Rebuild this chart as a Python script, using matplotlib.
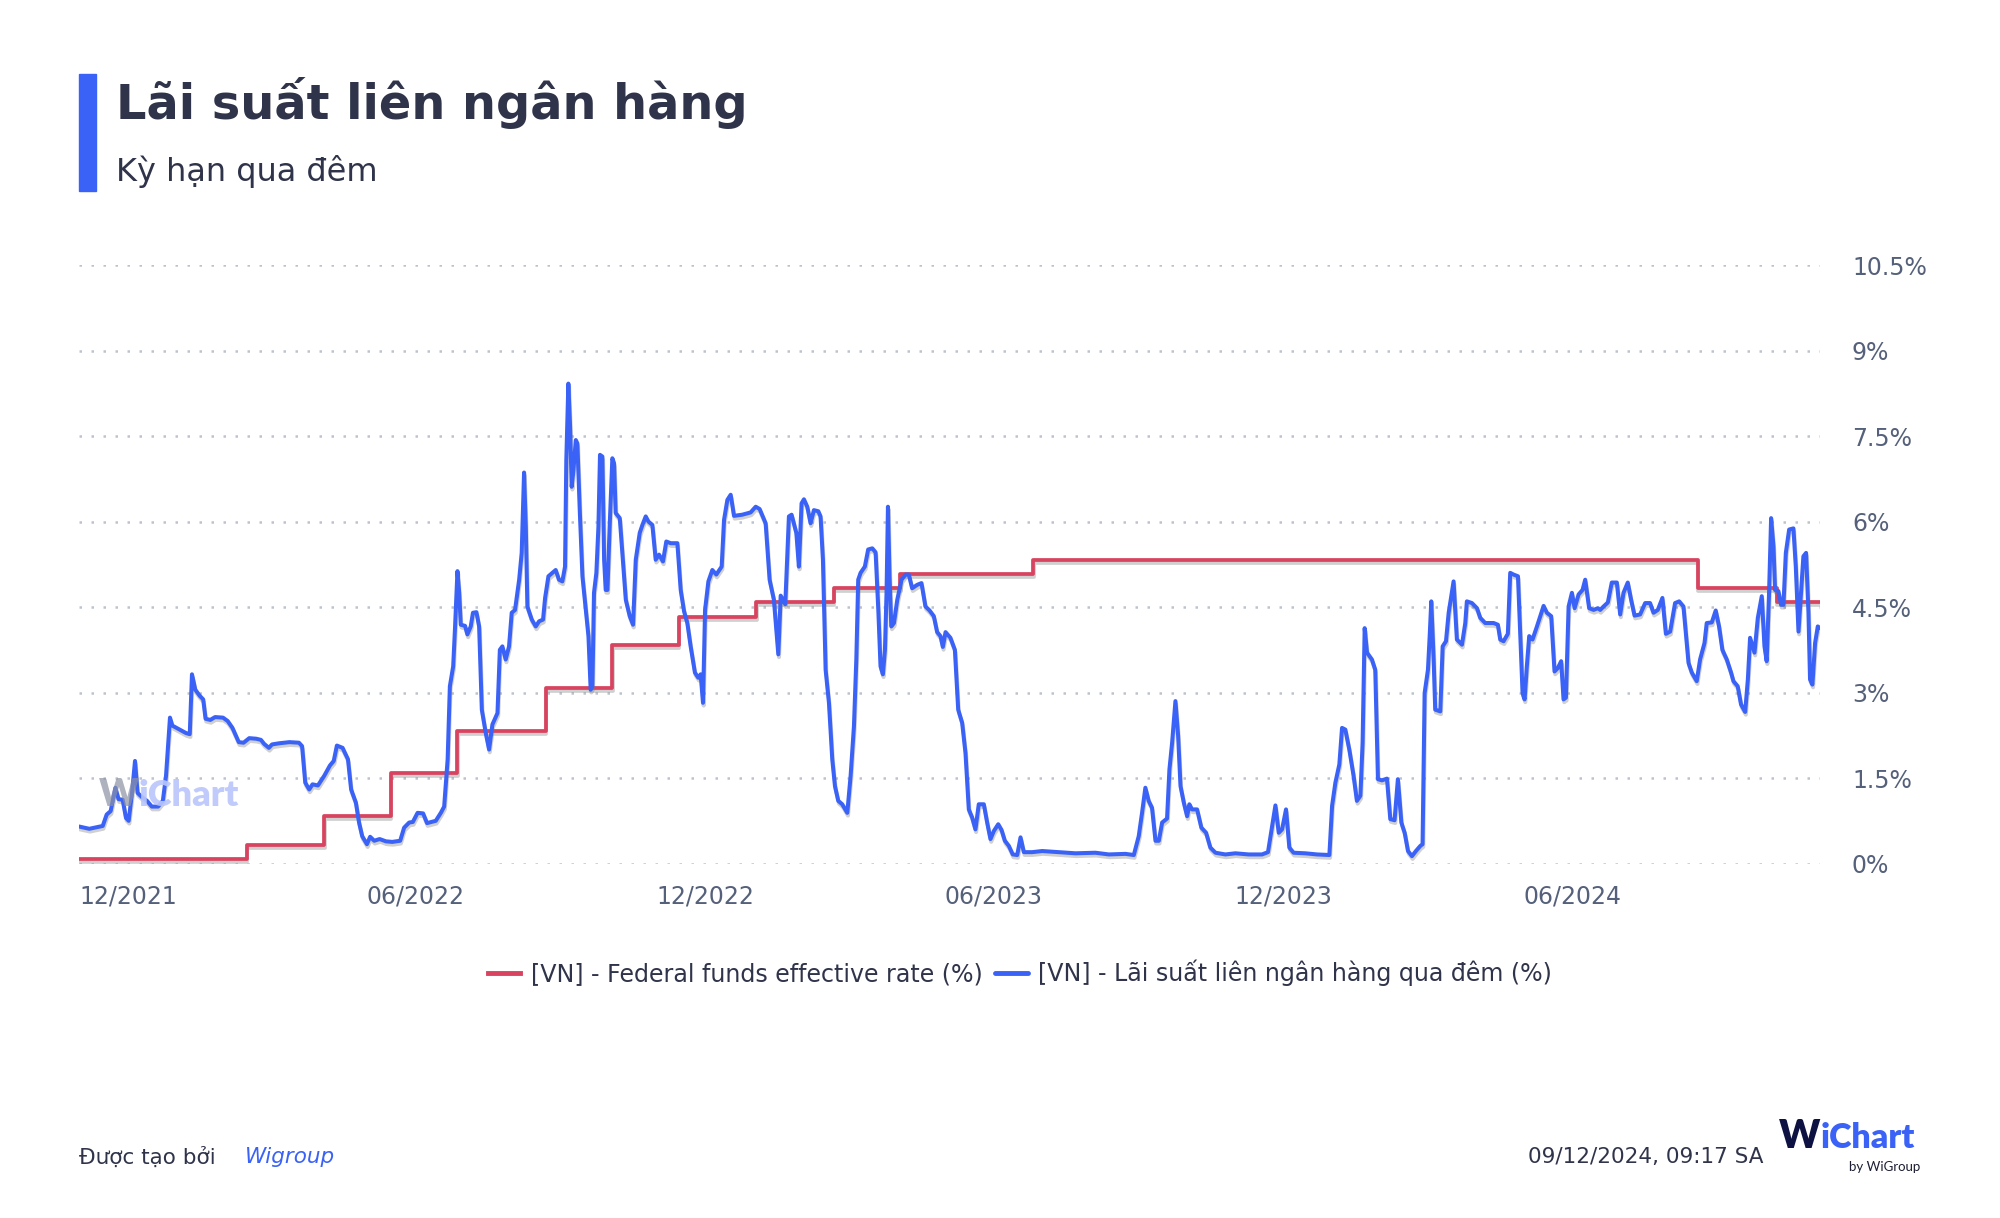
import numpy as np
import pandas as pd
import matplotlib
matplotlib.use('Agg')
import matplotlib.pyplot as plt
import matplotlib.patheffects as pe
from matplotlib.patches import Rectangle

# ---------------- data ----------------
START = '2021-12-01'

fed_dates = ['2021-12-01', '2022-03-17', '2022-05-05', '2022-06-16', '2022-07-28',
             '2022-09-22', '2022-11-03', '2022-12-15', '2023-02-02', '2023-03-23',
             '2023-05-04', '2023-07-27', '2024-09-19', '2024-11-08', '2024-12-05']
fed_values = [0.08, 0.33, 0.83, 1.58, 2.33, 3.08, 3.83, 4.33, 4.58, 4.83,
              5.08, 5.33, 4.83, 4.58, 4.58]

# days since START
vn_days = [0, 6.5, 15, 17.5, 20, 23, 25, 27.6, 29.7, 31.4, 33.5, 35.4, 37, 40, 43, 46, 50, 53, 55, 57.5,
           59, 63, 67.6, 70, 71.4, 73.5, 76.4, 78.5, 80, 83, 86, 91, 94, 97, 101, 104, 107.6, 112, 115, 117,
           120, 122, 126.5, 133, 139, 141, 143, 145.5, 147.6, 151, 155, 158.6, 161, 163, 166.6, 170, 172, 175, 177, 179,
           182, 184, 186.6, 190, 194, 198, 203, 205.5, 208.7, 211, 214, 217.5, 220, 225.5, 228.7, 230.8, 233, 234.4, 236.5, 237.7,
           239.2, 240.3, 241.3, 244, 245.5, 247.6, 249, 251.2, 252.9, 254.6, 257.1, 259.2, 261.3, 264.5, 266, 267.6, 269.7, 271.8, 273.5, 275.6,
           278.2, 279.8, 281.3, 282.4, 283.4, 286.2, 288.7, 290.8, 293.3, 294.6, 296.7, 299.2, 301.3, 303.4, 305.5, 307.2, 308, 309.3, 310.4, 311.4,
           312.5, 314, 315, 316.5, 318.2, 320.3, 322, 323.4, 324.5, 325.5, 327, 328.3, 329.3, 330.8, 331.9, 332.9, 334, 335.4, 337.1, 338.2,
           339.2, 341.8, 343.4, 345.6, 348.1, 350.2, 351.9, 354.4, 356.1, 358.2, 359.9, 362.4, 364.5, 366.6, 369.1, 371.2, 374, 378.2, 380.3, 382.4,
           384.5, 386.6, 389.3, 391.4, 392.9, 394.4, 395.7, 397.8, 400.3, 402.8, 406.2, 407.7, 409.8, 411.9, 414, 419.2, 424.5, 427.7, 430.2, 434,
           436.5, 439.2, 442, 443.5, 446.4, 448.7, 450.4, 453.4, 455, 456.7, 458.2, 460.3, 462.4, 464.5, 467.3, 468.7, 470.2, 471.9, 474, 476.1,
           477.8, 479.9, 482.4, 485.6, 487.7, 489.8, 491.3, 492.5, 494, 496.7, 498.8, 501.4, 503.5, 505.2, 506.6, 508.1, 509.4, 510.4, 511.3, 512.3,
           513.4, 515.1, 517.2, 519.9, 522.4, 524.5, 526.6, 529.8, 532.5, 535, 537.6, 540.3, 542.4, 544.5, 546, 547.7, 550.8, 553.6, 555.7, 558.2,
           560.3, 562.4, 564.5, 566.6, 568.7, 571.9, 574, 576.1, 578.2, 581, 583.1, 585.2, 587.7, 590.2, 593, 595.1, 597.2, 602.4, 608.8, 619.3,
           629.8, 642.4, 650.9, 661.4, 666.7, 669.8, 671.9, 674, 676.1, 678.2, 680.4, 682.5, 684.6, 687.7, 689.2, 690.9, 693, 694.7, 696.2, 698.3,
           700.4, 701.8, 703.5, 706.7, 709.4, 712.4, 715.1, 718.3, 724.6, 730.9, 739.3, 747.7, 751.5, 754.1, 756.2, 758.3, 760.4, 762.9, 765, 767.7,
           775.1, 782.5, 790.3, 792, 794.1, 796.6, 798.3, 800.4, 802.9, 805.6, 807.7, 809.9, 811.3, 812.6, 814.1, 817.2, 819.3, 821, 823.5, 826.7,
           828.8, 831.5, 833.6, 835.8, 837.9, 840, 842.5, 845, 847.8, 849.2, 850.5, 852.6, 853.7, 854.7, 856.2, 857.2, 860.4, 861.9, 864, 865.7,
           868.8, 870.9, 874.1, 876.2, 877.2, 880.4, 883.6, 885.7, 888.8, 894.1, 896.8, 898.3, 900.4, 903.1, 904.6, 906.7, 909.5, 910.9, 912.4, 913.7,
           915.1, 916.6, 918.7, 921.5, 923.6, 925.7, 927.8, 930.5, 932.6, 934.7, 936.8, 938.3, 939.8, 941.5, 943.6, 945.3, 947.8, 950.3, 952, 954.5,
           957.3, 960, 961.5, 963.6, 966.3, 968.8, 972, 974.1, 976.2, 978.9, 981, 983.2, 986.7, 989.9, 993, 995.2, 997.9, 1000.8, 1003, 1005.7,
           1008.8, 1011.4, 1014.1, 1017.3, 1019.4, 1022.5, 1024.6, 1027.4, 1028.8, 1032, 1034.5, 1036.6, 1038.7, 1041.5, 1044.2, 1045.7, 1048.4, 1050.5, 1053.1, 1054.8,
           1056.2, 1059, 1061.1, 1063.6, 1065.3, 1066.7, 1068.2, 1069.5, 1071, 1072, 1074.1, 1075.8, 1077.3, 1078.8, 1080.9, 1083.6, 1085.1, 1086.8, 1088.4, 1089.9,
           1091.6, 1093.1, 1094.1, 1095.6, 1097.3, 1099, 1100.4]
vn_values = [0.65, 0.61, 0.66, 0.86, 0.92, 1.33, 1.13, 1.12, 0.8, 0.75, 1.24, 1.8, 1.24, 1.16, 1.1, 1.0, 1.0, 1.1, 1.54, 2.56,
             2.42, 2.36, 2.29, 2.27, 3.32, 3.05, 2.94, 2.88, 2.54, 2.52, 2.57, 2.56, 2.5, 2.38, 2.13, 2.12, 2.2, 2.19, 2.17, 2.1,
             2.03, 2.09, 2.11, 2.13, 2.12, 2.06, 1.42, 1.3, 1.39, 1.37, 1.54, 1.72, 1.8, 2.07, 2.03, 1.83, 1.3, 1.07, 0.72, 0.48,
             0.34, 0.47, 0.4, 0.43, 0.39, 0.38, 0.4, 0.63, 0.72, 0.73, 0.89, 0.88, 0.71, 0.75, 0.89, 1.0, 1.83, 3.11, 3.46, 4.16,
             5.13, 4.75, 4.19, 4.17, 4.02, 4.16, 4.4, 4.41, 4.16, 2.7, 2.29, 2.0, 2.44, 2.64, 3.75, 3.81, 3.58, 3.81, 4.4, 4.45,
             4.98, 5.45, 6.86, 5.91, 4.51, 4.28, 4.16, 4.25, 4.28, 4.66, 5.04, 5.1, 5.15, 4.98, 4.95, 5.21, 7.08, 8.42, 7.66, 6.61,
             6.9, 7.43, 7.37, 6.2, 5.04, 4.45, 3.99, 3.05, 3.11, 4.75, 5.1, 5.91, 7.17, 7.14, 5.33, 4.8, 4.8, 5.91, 7.11, 7.02,
             6.15, 6.06, 5.45, 4.63, 4.34, 4.19, 5.33, 5.8, 5.94, 6.09, 6.0, 5.94, 5.33, 5.42, 5.3, 5.65, 5.62, 5.62, 4.8, 4.43,
             4.22, 3.81, 3.35, 3.26, 3.32, 2.82, 4.45, 4.95, 5.15, 5.07, 5.21, 6.03, 6.38, 6.47, 6.1, 6.12, 6.16, 6.26, 6.22, 5.97,
             4.98, 4.63, 3.67, 4.7, 4.55, 6.09, 6.12, 5.8, 5.21, 6.32, 6.39, 6.26, 5.97, 6.2, 6.18, 6.09, 5.33, 3.4, 2.82, 1.83,
             1.36, 1.1, 1.04, 0.89, 1.54, 2.41, 3.58, 4.98, 5.1, 5.21, 5.51, 5.53, 5.46, 4.45, 3.46, 3.32, 3.75, 4.75, 6.26, 5.04,
             4.16, 4.22, 4.63, 4.98, 5.07, 5.07, 4.83, 4.89, 4.92, 4.51, 4.44, 4.34, 4.06, 3.99, 3.8, 4.06, 3.96, 3.75, 2.7, 2.47,
             1.94, 0.95, 0.81, 0.6, 1.04, 1.04, 0.72, 0.43, 0.57, 0.69, 0.59, 0.4, 0.31, 0.16, 0.15, 0.46, 0.2, 0.2, 0.22, 0.2,
             0.18, 0.19, 0.16, 0.17, 0.15, 0.48, 0.89, 1.33, 1.1, 0.98, 0.4, 0.4, 0.72, 0.79, 1.65, 2.12, 2.85, 2.24, 1.36, 1.07,
             0.83, 1.04, 0.95, 0.95, 0.63, 0.54, 0.28, 0.19, 0.16, 0.18, 0.16, 0.16, 0.2, 0.66, 1.02, 0.54, 0.6, 0.95, 0.28, 0.19,
             0.18, 0.16, 0.15, 1.01, 1.42, 1.74, 2.38, 2.35, 2.0, 1.54, 1.1, 1.19, 2.12, 4.13, 3.7, 3.58, 3.4, 1.48, 1.46, 1.49,
             0.78, 0.76, 1.48, 0.72, 0.54, 0.22, 0.13, 0.22, 0.31, 0.34, 2.99, 3.4, 3.99, 4.6, 3.58, 2.7, 2.67, 3.81, 3.9, 4.4,
             4.95, 3.93, 3.84, 4.22, 4.6, 4.57, 4.48, 4.31, 4.22, 4.22, 4.19, 3.93, 3.9, 4.03, 5.1, 5.07, 5.04, 4.05, 2.99, 2.88,
             3.46, 3.99, 3.93, 4.16, 4.34, 4.52, 4.4, 4.34, 3.37, 3.43, 3.55, 2.88, 2.91, 4.51, 4.75, 4.48, 4.72, 4.8, 4.98, 4.48,
             4.45, 4.48, 4.45, 4.51, 4.58, 4.93, 4.93, 4.37, 4.75, 4.93, 4.63, 4.35, 4.37, 4.57, 4.57, 4.4, 4.45, 4.66, 4.03, 4.07,
             4.57, 4.6, 4.51, 3.52, 3.35, 3.2, 3.58, 3.87, 4.22, 4.23, 4.44, 4.16, 3.75, 3.58, 3.35, 3.2, 3.11, 2.79, 2.66, 3.23,
             3.96, 3.7, 4.31, 4.69, 3.81, 3.55, 4.75, 6.06, 5.56, 4.8, 4.78, 4.54, 4.54, 5.45, 5.86, 5.88, 5.21, 4.07, 4.75, 5.39,
             5.45, 4.4, 3.23, 3.14, 3.87, 4.16, 4.13]

x_tick_dates = ['2021-12-01', '2022-06-01', '2022-12-01', '2023-06-01', '2023-12-01', '2024-06-01']
x_tick_labels = ['12/2021', '06/2022', '12/2022', '06/2023', '12/2023', '06/2024']
y_ticks = [0, 1.5, 3, 4.5, 6, 7.5, 9, 10.5]
y_tick_labels = ['0%', '1.5%', '3%', '4.5%', '6%', '7.5%', '9%', '10.5%']

series_names = ['[VN] - Federal funds effective rate (%)',
                '[VN] - Lãi suất liên ngân hàng qua đêm (%)']

# ---------------- style ----------------
BLUE = '#3a62f6'
RED = '#d8435f'
DARK = '#30344a'
TICK = '#55607a'
GRID = '#bcc2cf'

plt.rcParams['font.family'] = ['DejaVu Sans']

fig = plt.figure(figsize=(20, 12.18), dpi=100)
ax = fig.add_axes([0.0395, 0.291, 0.8705, 0.4914])

start = pd.Timestamp(START)
vn_x = start + pd.to_timedelta(np.array(vn_days), unit='D')
fed_x = pd.to_datetime(fed_dates)

shadow = [pe.SimpleLineShadow(offset=(0.5, -2.0), shadow_color='#7a7a7a', alpha=0.35),
          pe.Normal()]

ax.step(fed_x, fed_values, where='post', color=RED, lw=2.7,
        path_effects=shadow, zorder=3, label=series_names[0],
        solid_joinstyle='round')
ax.plot(vn_x, vn_values, color=BLUE, lw=2.9, path_effects=shadow, zorder=4,
        label=series_names[1], solid_joinstyle='round', solid_capstyle='round')

ax.set_xlim(start, vn_x[-1])
ax.set_ylim(0, 10.5)

for s in ax.spines.values():
    s.set_visible(False)

ax.set_yticks(y_ticks)
ax.set_yticklabels(y_tick_labels)
ax.yaxis.tick_right()
ax.tick_params(axis='y', length=0, pad=23, labelsize=17, labelcolor=TICK)

ax.set_xticks(pd.to_datetime(x_tick_dates))
ax.set_xticklabels(x_tick_labels, ha='left')
ax.tick_params(axis='x', length=0, pad=15, labelsize=17, labelcolor=TICK)

ax.grid(axis='y', color=GRID, lw=1.8, linestyle=(0, (1, 3.8)))
ax.grid(axis='x', visible=False)
ax.set_axisbelow(True)

# ---------------- header ----------------
fig.patches.append(Rectangle((0.0395, 1 - 191 / 1218), 0.0085, (191 - 74) / 1218,
                             transform=fig.transFigure, color=BLUE, zorder=5))
fig.text(0.058, 1 - 103 / 1218, 'Lãi suất liên ngân hàng', fontsize=34.5,
         fontweight='bold', color=DARK, va='center', ha='left')
fig.text(0.058, 1 - 172 / 1218, 'Kỳ hạn qua đêm', fontsize=23,
         color=DARK, va='center', ha='left')

# watermark
fig.text(0.0495, 1 - 795 / 1218, 'W', fontsize=27, fontweight='heavy',
         color='#8c91a3', alpha=0.7, va='center', ha='left', family='Lato')
fig.text(0.0695, 1 - 796 / 1218, 'iChart', fontsize=26, fontweight='heavy',
         color='#b9c6fb', alpha=0.9, va='center', ha='left', family='Lato')

# ---------------- legend ----------------
leg = fig.legend(loc='center', bbox_to_anchor=(0.51, 1 - 973 / 1218), ncol=2,
                 frameon=False, fontsize=17.1, handlelength=1.35, handletextpad=0.45,
                 columnspacing=0.55, labelcolor=DARK)
for h in leg.legend_handles:
    h.set_path_effects([])
    h.set_linewidth(3.5)

# ---------------- footer ----------------
fig.text(0.0395, 1 - 1157 / 1218, 'Được tạo bởi', fontsize=15.5, color=DARK,
         va='center', ha='left')
fig.text(0.1225, 1 - 1157 / 1218, 'Wigroup', fontsize=15.5, color=BLUE,
         style='italic', va='center', ha='left')
fig.text(0.882, 1 - 1157 / 1218, '09/12/2024, 09:17 SA', fontsize=15.5, color=DARK,
         va='center', ha='right')
fig.text(0.8895, 1 - 1137 / 1218, 'W', fontsize=28, fontweight='heavy', color='#0d1242',
         va='center', ha='left', family='Lato')
fig.text(0.9105, 1 - 1138 / 1218, 'iChart', fontsize=24.5, fontweight='heavy', color=BLUE,
         va='center', ha='left', family='Lato')
fig.text(0.96, 1 - 1167 / 1218, 'by WiGroup', fontsize=9.5, color='#1c1f33',
         va='center', ha='right', family='Lato')

fig.savefig('out.png', dpi=100, facecolor='white')
